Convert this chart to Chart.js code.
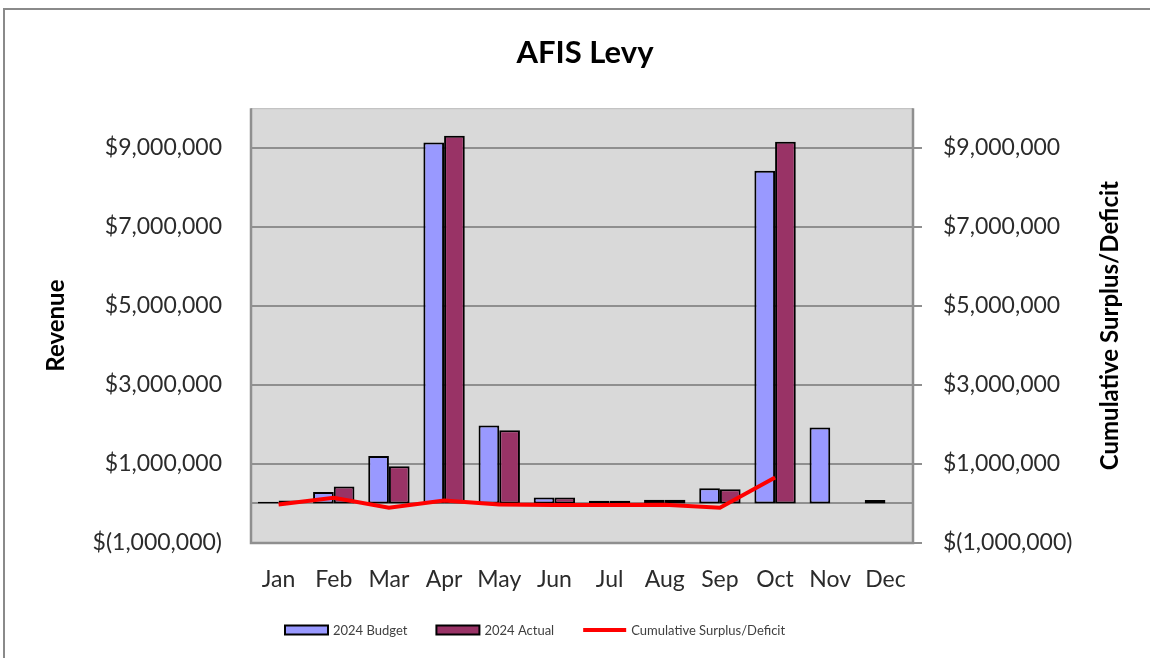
<!DOCTYPE html>
<html>
<head>
<meta charset="utf-8">
<script src="https://cdn.jsdelivr.net/npm/chart.js@4"></script>
<style>
  html, body { margin: 0; padding: 0; background: #ffffff; }
  #wrap { width: 1150px; height: 658px; position: relative; }
</style>
</head>
<body>
<div id="wrap"><canvas id="c" width="1150" height="658"></canvas></div>
<script>
// ---------- data ----------
const months = ['Jan', 'Feb', 'Mar', 'Apr', 'May', 'Jun', 'Jul', 'Aug', 'Sep', 'Oct', 'Nov', 'Dec'];
const budget2024 = [43000, 290000, 1200000, 9130000, 1970000, 150000, 70000, 95000, 385000, 8420000, 1920000, 85000];
const actual2024 = [77000, 430000, 940000, 9300000, 1850000, 150000, 70000, 95000, 360000, 9150000, null, null];
const cumulativeSurplus = [-26000, 145000, -110000, 77000, -26000, -40000, -40000, -30000, -110000, 660000, null, null];
const yTickValues = [-1000000, 1000000, 3000000, 5000000, 7000000, 9000000];
const seriesNames = ['2024 Budget', '2024 Actual', 'Cumulative Surplus/Deficit'];
const chartTitle = 'AFIS Levy';
const leftAxisTitle = 'Revenue';
const rightAxisTitle = 'Cumulative Surplus/Deficit';
const yMin = -1000000;
const yMax = 10000000;

// ---------- styling ----------
const FONT = 'Lato, "Open Sans", sans-serif';
const TEXT = '#2b2b2b';
const GRID = '#8f8f8f';

function money(v) {
  const s = Math.abs(v).toLocaleString('en-US');
  return v < 0 ? '$(' + s + ')' : '$' + s;
}

const framePlugin = {
  id: 'frame',
  beforeDraw(chart) {
    const { ctx, chartArea: a } = chart;
    ctx.save();
    ctx.fillStyle = '#ffffff';
    ctx.fillRect(0, 0, chart.width, chart.height);
    ctx.strokeStyle = '#8a8a8a';
    ctx.lineWidth = 2;
    ctx.strokeRect(4, 9, 1200, 700);
    ctx.fillStyle = '#d9d9d9';
    ctx.fillRect(a.left, a.top, a.right - a.left, a.bottom - a.top);
    ctx.restore();
  },
  beforeDatasetsDraw(chart) {
    const { ctx, chartArea: a, scales } = chart;
    ctx.save();
    const y0 = Math.round(scales.y.getPixelForValue(0));
    ctx.strokeStyle = GRID;
    ctx.lineWidth = 2;
    ctx.beginPath();
    ctx.moveTo(a.left, y0);
    ctx.lineTo(a.right, y0);
    ctx.stroke();
    ctx.strokeStyle = '#bdbdbd';
    ctx.lineWidth = 1;
    ctx.beginPath();
    ctx.moveTo(a.left, a.top + 0.5);
    ctx.lineTo(a.right, a.top + 0.5);
    ctx.stroke();
    ctx.strokeStyle = GRID;
    ctx.lineWidth = 2.5;
    ctx.beginPath();
    ctx.moveTo(a.left, a.top);
    ctx.lineTo(a.left, a.bottom);
    ctx.lineTo(a.right, a.bottom);
    ctx.lineTo(a.right, a.top);
    ctx.stroke();
    ctx.restore();
  },
  afterDraw(chart) {
    const { ctx, chartArea: a } = chart;
    ctx.save();
    ctx.translate(1110, (a.top + a.bottom) / 2);
    ctx.rotate(-Math.PI / 2);
    ctx.fillStyle = '#000000';
    ctx.font = 'bold 24px ' + FONT;
    ctx.textAlign = 'center';
    ctx.textBaseline = 'middle';
    ctx.fillText(rightAxisTitle, 0, 0);
    ctx.restore();

    ctx.save();
    ctx.font = '13px ' + FONT;
    ctx.textBaseline = 'middle';
    ctx.textAlign = 'left';
    let x = 285;
    const yc = 630;
    chart.data.datasets.forEach(ds => {
      if (ds.type === 'line') {
        ctx.strokeStyle = ds.borderColor;
        ctx.lineWidth = 4;
        ctx.beginPath();
        ctx.moveTo(x, yc);
        ctx.lineTo(x + 43, yc);
        ctx.stroke();
      } else {
        ctx.fillStyle = ds.backgroundColor;
        ctx.fillRect(x, yc - 4.5, 43, 9);
        ctx.strokeStyle = '#000000';
        ctx.lineWidth = 2;
        ctx.strokeRect(x, yc - 4.5, 43, 9);
      }
      ctx.fillStyle = '#404040';
      ctx.fillText(ds.label, x + 48, yc + 1);
      x += 48 + ctx.measureText(ds.label).width + 29;
    });
    ctx.restore();
  }
};

const ctx = document.getElementById('c').getContext('2d');
new Chart(ctx, {
  type: 'bar',
  data: {
    labels: months,
    datasets: [
      {
        label: seriesNames[0],
        data: budget2024,
        backgroundColor: '#9999ff',
        borderColor: '#000000',
        borderWidth: 2,
        borderSkipped: false,
        yAxisID: 'y',
        order: 1
      },
      {
        label: seriesNames[1],
        data: actual2024,
        backgroundColor: '#993366',
        borderColor: '#000000',
        borderWidth: 2,
        borderSkipped: false,
        yAxisID: 'y',
        order: 1
      },
      {
        type: 'line',
        label: seriesNames[2],
        data: cumulativeSurplus,
        borderColor: '#ff0000',
        backgroundColor: '#ff0000',
        borderWidth: 4,
        pointRadius: 0,
        tension: 0,
        fill: false,
        spanGaps: false,
        yAxisID: 'y1',
        order: 0
      }
    ]
  },
  options: {
    responsive: false,
    animation: false,
    layout: { padding: { left: 20, right: 0, top: 0, bottom: 0 } },
    datasets: {
      bar: { categoryPercentage: 0.75, barPercentage: 1.0 }
    },
    plugins: {
      legend: { display: false },
      tooltip: { enabled: false },
      title: {
        display: true,
        text: chartTitle,
        color: '#000000',
        font: { family: FONT, size: 31, weight: 'bold' },
        padding: { top: 34, bottom: 37 }
      }
    },
    scales: {
      x: {
        type: 'category',
        grid: { display: false },
        border: { display: false },
        ticks: { color: TEXT, font: { family: FONT, size: 23 }, padding: 15, maxRotation: 0 },
        afterFit(s) { s.height = 115; }
      },
      y: {
        type: 'linear',
        position: 'left',
        min: yMin,
        max: yMax,
        afterBuildTicks(s) { s.ticks = yTickValues.map(v => ({ value: v })); },
        ticks: { color: TEXT, font: { family: FONT, size: 23 }, padding: 29, callback: v => money(v) },
        grid: { color: GRID, lineWidth: 2, drawTicks: false },
        border: { display: false },
        title: {
          display: true,
          text: leftAxisTitle,
          color: '#000000',
          font: { family: FONT, size: 24, weight: 'bold' },
          padding: { top: 22, bottom: 0 }
        },
        afterFit(s) { s.width = 231; }
      },
      y1: {
        type: 'linear',
        position: 'right',
        min: yMin,
        max: yMax,
        afterBuildTicks(s) { s.ticks = yTickValues.map(v => ({ value: v })); },
        ticks: { color: TEXT, font: { family: FONT, size: 23 }, padding: 21, callback: v => money(v) },
        grid: { drawOnChartArea: false, color: GRID, lineWidth: 2, drawTicks: true, tickLength: 9 },
        border: { display: false },
        afterFit(s) { s.width = 237; }
      }
    }
  },
  plugins: [framePlugin]
});
</script>
</body>
</html>
